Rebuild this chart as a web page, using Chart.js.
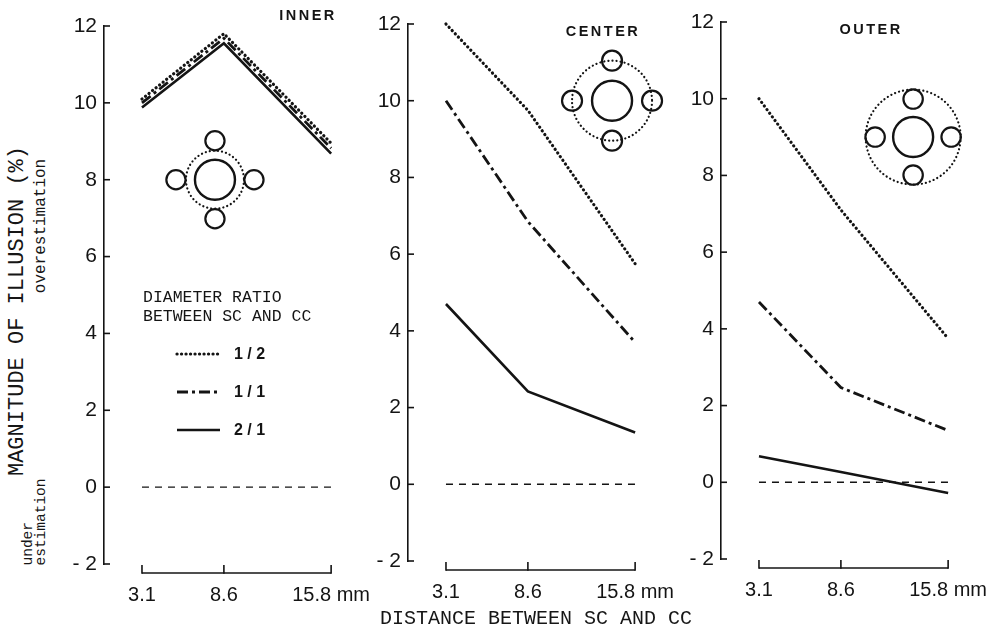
<!DOCTYPE html>
<html>
<head>
<meta charset="utf-8">
<script src="https://cdn.jsdelivr.net/npm/chart.js@4.4.1/dist/chart.umd.min.js"></script>
<style>
  body { margin: 0; background: #fff; }
  #page { position: relative; width: 1005px; height: 644px; overflow: hidden; background: #fff; }
  canvas { position: absolute; top: 0; }
  .txt { position: absolute; color: #161616; white-space: nowrap; font-family: "Liberation Mono", "DejaVu Sans Mono", monospace; }
  .rot { transform: translate(-50%, -50%) rotate(-90deg); }
</style>
</head>
<body>
<div id="page">
  <canvas id="p0" width="330" height="644" style="left:50px"></canvas>
  <canvas id="p1" width="330" height="644" style="left:354px"></canvas>
  <canvas id="p2" width="330" height="644" style="left:667px"></canvas>

  <div class="txt rot" style="left:17px; top:311px; font-size:22px;">MAGNITUDE OF ILLUSION (%)</div>
  <div class="txt rot" style="left:41px; top:226px; font-size:16px;">overestimation</div>
  <div class="txt rot" style="left:35px; top:522px; font-size:14.5px; line-height:13px; text-align:left;">under<br>estimation</div>
  <div class="txt" style="left:380px; top:607px; font-size:20px;">DISTANCE BETWEEN SC AND CC</div>
</div>

<script>
// distance between SC and CC (mm)
const distances = [3.1, 8.6, 15.8];
const yTicks = [-2, 0, 2, 4, 6, 8, 10, 12];
const ratioLabels = ['1 / 2', '1 / 1', '2 / 1'];
const panelNames = ['INNER', 'CENTER', 'OUTER'];

// magnitude of illusion (%)
const innerHalf = [10.1, 11.8, 8.95];
const innerOne = [10.0, 11.68, 8.82];
const innerTwo = [9.88, 11.55, 8.68];

const centerHalf = [12.0, 9.75, 5.75];
const centerOne = [10.0, 6.85, 3.7];
const centerTwo = [4.7, 2.42, 1.35];

const outerHalf = [10.0, 7.1, 3.75];
const outerOne = [4.7, 2.47, 1.35];
const outerTwo = [0.68, 0.27, -0.28];

const zeroLine = [0, 0];
const zeroLineX = [3.1, 16.0];

const ink = '#141414';
const seriesStyles = [
  { dash: [0.1, 4.4], cap: 'round', width: 3.2 },
  { dash: [11, 4, 3, 4], cap: 'butt', width: 2.8 },
  { dash: [], cap: 'butt', width: 2.6 }
];

const panels = [
  { series: [innerHalf, innerOne, innerTwo], top: 26, bottom: 30, titleDx: 204, titleY: 16,
    diagram: { x: 8.0, y: 8.0, ring: 29, dist: 39, big: 20, small: 9.6 }, legend: true },
  { series: [centerHalf, centerOne, centerTwo], top: 24, bottom: 33, titleDx: 195, titleY: 32,
    diagram: { x: 14.25, y: 10.0, ring: 40, dist: 40, big: 20, small: 10 }, legend: false },
  { series: [outerHalf, outerOne, outerTwo], top: 22, bottom: 35, titleDx: 150, titleY: 30,
    diagram: { x: 13.45, y: 9.0, ring: 47.5, dist: 38, big: 20, small: 9.7 }, legend: false }
];

function line(ctx, x1, y1, x2, y2) {
  ctx.beginPath(); ctx.moveTo(x1, y1); ctx.lineTo(x2, y2); ctx.stroke();
}

function drawDiagram(ctx, cx, cy, d) {
  ctx.save();
  ctx.setLineDash([0.1, 4]); ctx.lineCap = 'round'; ctx.lineWidth = 2.2;
  ctx.beginPath(); ctx.arc(cx, cy, d.ring, 0, Math.PI * 2); ctx.stroke();
  ctx.setLineDash([]); ctx.lineCap = 'butt'; ctx.lineWidth = 2.4;
  ctx.beginPath(); ctx.arc(cx, cy, d.big, 0, Math.PI * 2); ctx.stroke();
  ctx.lineWidth = 2.2;
  [[0, -1], [0, 1], [-1, 0], [1, 0]].forEach(([dx, dy]) => {
    ctx.beginPath(); ctx.arc(cx + dx * d.dist, cy + dy * d.dist, d.small, 0, Math.PI * 2); ctx.stroke();
  });
  ctx.restore();
}

function drawLegend(ctx, a) {
  ctx.save();
  ctx.fillStyle = ink; ctx.strokeStyle = ink;
  ctx.textAlign = 'left'; ctx.textBaseline = 'middle';
  ctx.font = '16.5px "Liberation Mono", monospace';
  ctx.fillText('DIAMETER RATIO', a.left + 39, 298);
  ctx.fillText('BETWEEN SC AND CC', a.left + 39, 317);
  const rows = [354, 392, 430];
  rows.forEach((ly, i) => {
    const st = seriesStyles[i];
    ctx.setLineDash(st.dash); ctx.lineCap = st.cap; ctx.lineWidth = st.width;
    line(ctx, a.left + 73, ly, a.left + 116, ly);
    ctx.setLineDash([]);
    ctx.font = 'bold 16px "Liberation Sans", Arial, sans-serif';
    ctx.fillText(ratioLabels[i], a.left + 130, ly + 1);
  });
  ctx.restore();
}

const panelDecor = {
  id: 'panelDecor',
  afterDraw(chart) {
    const idx = +chart.canvas.id.slice(1);
    const p = panels[idx];
    const { ctx, chartArea: a, scales: { x, y } } = chart;
    ctx.save();
    ctx.strokeStyle = ink; ctx.fillStyle = ink; ctx.lineWidth = 1.6;
    // inward tick marks on the value axis
    yTicks.forEach(v => {
      const py = y.getPixelForValue(v);
      line(ctx, a.left, py, a.left + 6, py);
    });
    // separate distance axis bracket under the plot
    const by = a.bottom + 9;
    line(ctx, x.getPixelForValue(distances[0]), by, x.getPixelForValue(distances[2]), by);
    distances.forEach(v => {
      const px = x.getPixelForValue(v);
      line(ctx, px, by + 0.8, px, by - 8);
    });
    // panel name
    ctx.font = 'bold 14.5px "Liberation Sans", Arial, sans-serif';
    ctx.letterSpacing = '2.5px';
    ctx.textAlign = 'center'; ctx.textBaseline = 'middle';
    ctx.fillText(panelNames[idx], a.left + p.titleDx, p.titleY);
    ctx.letterSpacing = '0px';
    // circle arrangement
    drawDiagram(ctx, x.getPixelForValue(p.diagram.x), y.getPixelForValue(p.diagram.y), p.diagram);
    ctx.restore();
    if (p.legend) drawLegend(ctx, a);
  }
};

function pts(arr) {
  return distances.map((d, i) => ({ x: d, y: arr[i] }));
}

panels.forEach((p, idx) => {
  const datasets = p.series.map((s, i) => ({
    label: ratioLabels[i],
    data: pts(s),
    borderColor: ink,
    borderWidth: seriesStyles[i].width,
    borderDash: seriesStyles[i].dash,
    borderCapStyle: seriesStyles[i].cap,
    borderJoinStyle: 'miter',
    pointRadius: 0,
    tension: 0,
    clip: false
  }));
  datasets.push({
    label: 'zero',
    data: zeroLineX.map((d, i) => ({ x: d, y: zeroLine[i] })),
    borderColor: ink,
    borderWidth: 1.4,
    borderDash: [7, 6],
    pointRadius: 0,
    clip: false
  });

  new Chart(document.getElementById('p' + idx), {
    type: 'line',
    data: { datasets },
    options: {
      responsive: false,
      animation: false,
      layout: { autoPadding: false, padding: { top: p.top, right: 31, bottom: p.bottom, left: 0 } },
      plugins: { legend: { display: false }, tooltip: { enabled: false } },
      scales: {
        x: {
          type: 'linear',
          bounds: 'data',
          min: 0.55,
          max: 17.0,
          border: { display: false },
          grid: { display: false, drawTicks: false },
          afterBuildTicks: s => { s.ticks = distances.map(v => ({ value: v })); },
          afterFit: s => { s.height = 50; s.paddingLeft = 0; s.paddingRight = 0; },
          ticks: {
            autoSkip: false,
            maxRotation: 0,
            padding: 19,
            color: ink,
            font: { family: '"Liberation Sans", Arial, sans-serif', size: 20 },
            callback: v => v === 15.8 ? '15.8 mm' : String(v)
          }
        },
        y: {
          min: -2,
          max: 12,
          border: { display: true, color: ink, width: 1.6 },
          grid: { display: false, drawTicks: false },
          afterFit: s => { s.width = 54; s.paddingTop = 0; s.paddingBottom = 0; },
          ticks: {
            stepSize: 2,
            padding: 7,
            color: ink,
            font: { family: '"Liberation Sans", Arial, sans-serif', size: 21 },
            callback: v => v < 0 ? '- ' + (-v) : String(v)
          }
        }
      }
    },
    plugins: [panelDecor]
  });
});
</script>
</body>
</html>
